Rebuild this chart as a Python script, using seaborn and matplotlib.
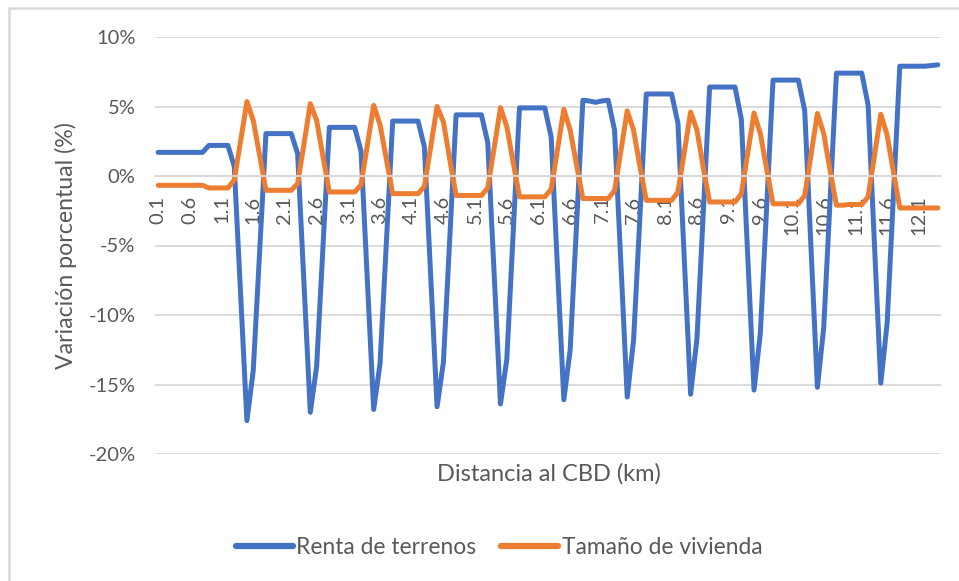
import matplotlib
matplotlib.use("Agg")
import matplotlib.pyplot as plt
import seaborn as sns
import pandas as pd
from matplotlib.lines import Line2D
from matplotlib.ticker import FuncFormatter

# ---- data ----
distancias = [round(0.1 * k, 1) for k in range(1, 125)]  # 0.1 ... 12.4 km category labels

renta_terrenos = [
    1.7, 1.7, 1.7, 1.7, 1.7, 1.7, 1.7, 1.7,
    2.2, 2.2, 2.2, 2.2,
    0.7, -8.45, -17.6, -14.0, -5.5,
    3.05, 3.05, 3.05, 3.05, 3.05,
    1.6, -7.7, -17.0, -13.7, -5.1,
    3.5, 3.5, 3.5, 3.5, 3.5,
    1.8, -7.5, -16.8, -13.5, -4.8,
    3.95, 3.95, 3.95, 3.95, 3.95,
    2.1, -7.25, -16.6, -13.4, -4.5,
    4.4, 4.4, 4.4, 4.4, 4.4,
    2.4, -7.0, -16.4, -13.2, -4.15,
    4.9, 4.9, 4.9, 4.9, 4.9,
    2.8, -6.65, -16.1, -12.5, -3.55,
    5.45, 5.4, 5.3, 5.4, 5.45,
    3.3, -6.3, -15.9, -11.8, -2.95,
    5.9, 5.9, 5.9, 5.9, 5.9,
    3.8, -5.95, -15.7, -11.7, -2.65,
    6.4, 6.4, 6.4, 6.4, 6.4,
    4.1, -5.65, -15.4, -11.3, -2.2,
    6.9, 6.9, 6.9, 6.9, 6.9,
    4.7, -5.25, -15.2, -10.9, -1.75,
    7.4, 7.4, 7.4, 7.4, 7.4,
    5.1, -4.9, -14.9, -10.6, -1.35,
    7.9, 7.9, 7.9, 7.9, 7.9, 7.95, 8.0,
]

tamano_vivienda = [
    -0.67, -0.67, -0.67, -0.67, -0.67, -0.67, -0.67, -0.67,
    -0.86, -0.86, -0.86, -0.86,
    -0.3, 2.5, 5.35, 4.0, 1.5,
    -1.03, -1.03, -1.03, -1.03, -1.03,
    -0.55, 2.3, 5.2, 4.0, 1.4,
    -1.15, -1.15, -1.15, -1.15, -1.15,
    -0.65, 2.2, 5.08, 3.7, 1.2,
    -1.27, -1.27, -1.27, -1.27, -1.27,
    -0.75, 2.1, 5.0, 3.9, 1.2,
    -1.4, -1.4, -1.4, -1.4, -1.4,
    -0.85, 2.0, 4.92, 3.55, 1.0,
    -1.5, -1.5, -1.5, -1.5, -1.5,
    -0.95, 1.9, 4.8, 3.3, 0.8,
    -1.62, -1.62, -1.62, -1.62, -1.62,
    -1.05, 1.8, 4.68, 3.3, 0.7,
    -1.75, -1.75, -1.75, -1.75, -1.75,
    -1.15, 1.7, 4.6, 3.3, 0.6,
    -1.87, -1.87, -1.87, -1.87, -1.87,
    -1.3, 1.6, 4.53, 3.05, 0.5,
    -2.0, -2.0, -2.0, -2.0, -2.0,
    -1.4, 1.55, 4.5, 3.05, 0.4,
    -2.1, -2.1, -2.05, -2.05, -2.05,
    -1.5, 1.45, 4.44, 2.95, 0.3,
    -2.3, -2.3, -2.3, -2.3, -2.3, -2.3, -2.3,
]

series_names = ["Renta de terrenos", "Tamaño de vivienda"]
y_ticks = [-20, -15, -10, -5, 0, 5, 10]

# ---- build long table ----
n = len(distancias)
df = pd.DataFrame({
    "pos": list(range(n)) * 2,
    "valor": renta_terrenos + tamano_vivienda,
    "serie": [series_names[0]] * n + [series_names[1]] * n,
})

sns.set_style("white")
plt.rcParams["font.family"] = ["Lato", "DejaVu Sans"]

TXT = "#595959"
GRID = "#D9D9D9"
colors = {series_names[0]: "#4472C4", series_names[1]: "#ED7D31"}

fig = plt.figure(figsize=(9.59, 5.81), dpi=100)
ax = fig.add_axes([155 / 959, 1 - 454 / 581, (941 - 155) / 959, (454 - 37) / 581])

sns.lineplot(data=df, x="pos", y="valor", hue="serie", palette=colors,
             linewidth=3.6, ax=ax, legend=False, sort=False,
             solid_capstyle="round", solid_joinstyle="round")

ax.set_xlim(-0.5, n - 0.5)
ax.set_ylim(-20, 10)
ax.set_yticks(y_ticks)
ax.yaxis.set_major_formatter(FuncFormatter(lambda v, p: f"{int(v)}%"))
ax.grid(axis="y", color=GRID, linewidth=1.3)
ax.set_axisbelow(True)
for s in ["top", "right", "left"]:
    ax.spines[s].set_visible(False)
ax.spines["bottom"].set_position(("data", 0))
ax.spines["bottom"].set_color(GRID)
ax.spines["bottom"].set_linewidth(1.3)

tick_pos = list(range(0, n, 5))
ax.set_xticks(tick_pos)
ax.set_xticklabels([f"{distancias[p]:.1f}" for p in tick_pos], rotation=90,
                   fontsize=14.5, color=TXT)
ax.tick_params(axis="x", length=0, pad=14)
ax.tick_params(axis="y", length=0, pad=14, labelsize=14.5, labelcolor=TXT)

ax.set_xlabel("")
ax.set_ylabel("Variación porcentual (%)", fontsize=16.7, color=TXT, labelpad=8)
fig.text(549 / 959, 1 - 474 / 581, "Distancia al CBD (km)", ha="center",
         va="center", fontsize=17, color=TXT)

handles = [Line2D([0], [0], color=colors[s], linewidth=4.5, solid_capstyle="round")
           for s in series_names]
fig.legend(handles, series_names, loc="center", bbox_to_anchor=(499 / 959, 1 - 547 / 581),
           ncol=2, frameon=False, fontsize=16.4, labelcolor=TXT,
           handlelength=2.5, handletextpad=0.15, columnspacing=1.1)

# chart border
fig.add_artist(Line2D([9 / 959, 9 / 959], [0, 1 - 8 / 581], color=GRID, linewidth=1.8,
                      transform=fig.transFigure))
fig.add_artist(Line2D([9 / 959, 1], [1 - 8 / 581, 1 - 8 / 581], color=GRID, linewidth=1.8,
                      transform=fig.transFigure))

fig.savefig("out.png", dpi=100)
